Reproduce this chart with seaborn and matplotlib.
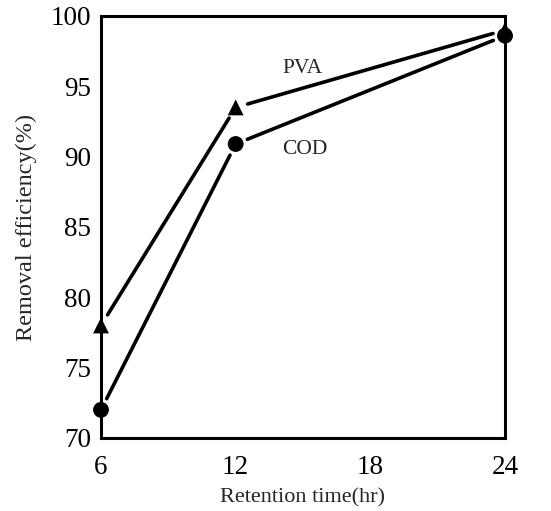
import matplotlib
matplotlib.use("Agg")
import matplotlib.pyplot as plt
import seaborn as sns
import pandas as pd

retention = [6, 12, 24]
pva = [78.0, 93.5, 99.0]
cod = [72.0, 90.9, 98.6]
x_ticks = [6, 12, 18, 24]
y_ticks = [70, 75, 80, 85, 90, 95, 100]

sns.set_theme(style="white")
plt.rcParams['font.family'] = ['Liberation Serif', 'DejaVu Serif']

fig = plt.figure(figsize=(5.51, 5.11), dpi=100)
ax = fig.add_axes([0.1833, 0.1429, 0.7332, 0.8258])

df = pd.DataFrame({"t": retention * 2, "v": pva + cod,
                   "s": ["PVA"] * 3 + ["COD"] * 3})
sns.scatterplot(data=df, x="t", y="v", style="s", markers={"PVA": "^", "COD": "o"},
                color="black", s=130, edgecolor="black", linewidth=0, legend=False,
                ax=ax, zorder=5, clip_on=False)

for series in (pva, cod):
    for i in range(len(retention) - 1):
        ax.annotate("", xy=(retention[i + 1], series[i + 1]),
                    xytext=(retention[i], series[i]),
                    arrowprops=dict(arrowstyle="-", color="black", lw=2.6,
                                    shrinkA=9, shrinkB=9))

ax.text(15.0, 96.3, "PVA", fontsize=15.5, ha="center", va="center")
ax.text(15.1, 90.5, "COD", fontsize=15.5, ha="center", va="center")

ax.set_xlim(6, 24)
ax.set_ylim(70, 100)
ax.set_xticks(x_ticks)
ax.set_yticks(y_ticks)
ax.tick_params(axis="both", direction="inout", length=10, width=2,
               labelsize=19.5, colors="black")
ax.tick_params(axis="x", pad=7)
ax.tick_params(axis="y", pad=2)
for sp in ax.spines.values():
    sp.set_linewidth(2.2)
    sp.set_color("black")
ax.set_xlabel("Retention time(hr)", fontsize=16, labelpad=6)
ax.set_ylabel("Removal efficiency(%)", fontsize=17.5, labelpad=10)

fig.savefig("out.png", dpi=100)
